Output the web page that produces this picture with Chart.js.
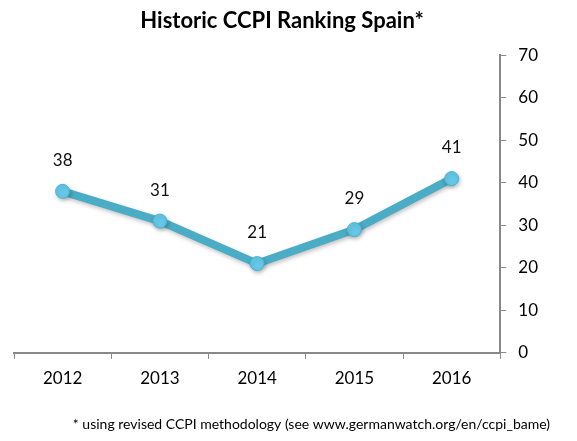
<!DOCTYPE html>
<html>
<head>
<meta charset="utf-8">
<script src="https://cdn.jsdelivr.net/npm/chart.js@4"></script>
<style>
  body { margin: 0; background: #fff; }
</style>
</head>
<body>
<canvas id="chart" width="577" height="441"></canvas>
<script>
var years = ['2012', '2013', '2014', '2015', '2016'];
var ranking = [38, 31, 21, 29, 41];
var yTicks = [0, 10, 20, 30, 40, 50, 60, 70];

var fontName = 'Lato, "Open Sans", sans-serif';

// soft shadow under the line, like the original
var lineShadow = {
    id: 'lineShadow',
    beforeDatasetDraw: function(chart) {
        chart.ctx.save();
        chart.ctx.shadowColor = 'rgba(0,0,0,0.25)';
        chart.ctx.shadowBlur = 4;
        chart.ctx.shadowOffsetX = 1;
        chart.ctx.shadowOffsetY = 2;
    },
    afterDatasetDraw: function(chart) {
        chart.ctx.restore();
    }
};

// draw the value above each point
var valueLabels = {
    id: 'valueLabels',
    afterDatasetsDraw: function(chart) {
        var ctx = chart.ctx;
        var meta = chart.getDatasetMeta(0);
        ctx.save();
        ctx.font = '17px ' + fontName;
        ctx.fillStyle = '#111';
        ctx.textAlign = 'center';
        ctx.textBaseline = 'middle';
        meta.data.forEach(function(pt, i) {
            ctx.fillText(String(ranking[i]), pt.x, pt.y - 31);
        });
        ctx.restore();
    }
};

var ctx = document.getElementById('chart').getContext('2d');
var chart = new Chart(ctx, {
    type: 'line',
    data: {
        labels: years,
        datasets: [{
            data: ranking,
            borderColor: '#4BACC6',
            borderWidth: 8,
            tension: 0,
            pointRadius: 7,
            pointBackgroundColor: '#66C8E8',
            pointBorderColor: '#47B3D3',
            pointBorderWidth: 1
        }]
    },
    options: {
        responsive: false,
        animation: false,
        layout: { padding: { left: 14, right: 27, top: 0, bottom: 0 } },
        plugins: {
            legend: { display: false },
            tooltip: { enabled: false },
            title: {
                display: true,
                text: 'Historic CCPI Ranking Spain*',
                color: '#000',
                font: { family: fontName, size: 22, weight: 'bold' },
                padding: { top: 8, bottom: 21 }
            },
            subtitle: {
                display: true,
                position: 'bottom',
                align: 'end',
                text: '* using revised CCPI methodology (see www.germanwatch.org/en/ccpi_bame)',
                color: '#000',
                font: { family: fontName, size: 14 },
                padding: { top: 17, bottom: 8 }
            }
        },
        scales: {
            x: {
                offset: true,
                grid: {
                    offset: true,
                    drawOnChartArea: false,
                    drawTicks: true,
                    tickLength: 6,
                    color: '#888'
                },
                border: { color: '#888', width: 2 },
                ticks: {
                    color: '#000',
                    padding: 10,
                    font: { family: fontName, size: 17 }
                }
            },
            y: {
                position: 'right',
                min: 0,
                max: 70,
                afterBuildTicks: function(axis) {
                    axis.ticks = yTicks.map(function(v) { return { value: v }; });
                },
                grid: {
                    drawOnChartArea: false,
                    drawTicks: true,
                    tickLength: 6,
                    color: '#888'
                },
                border: { color: '#888', width: 2 },
                ticks: {
                    color: '#000',
                    padding: 12,
                    font: { family: fontName, size: 17 }
                }
            }
        }
    },
    plugins: [lineShadow, valueLabels]
});
</script>
</body>
</html>
